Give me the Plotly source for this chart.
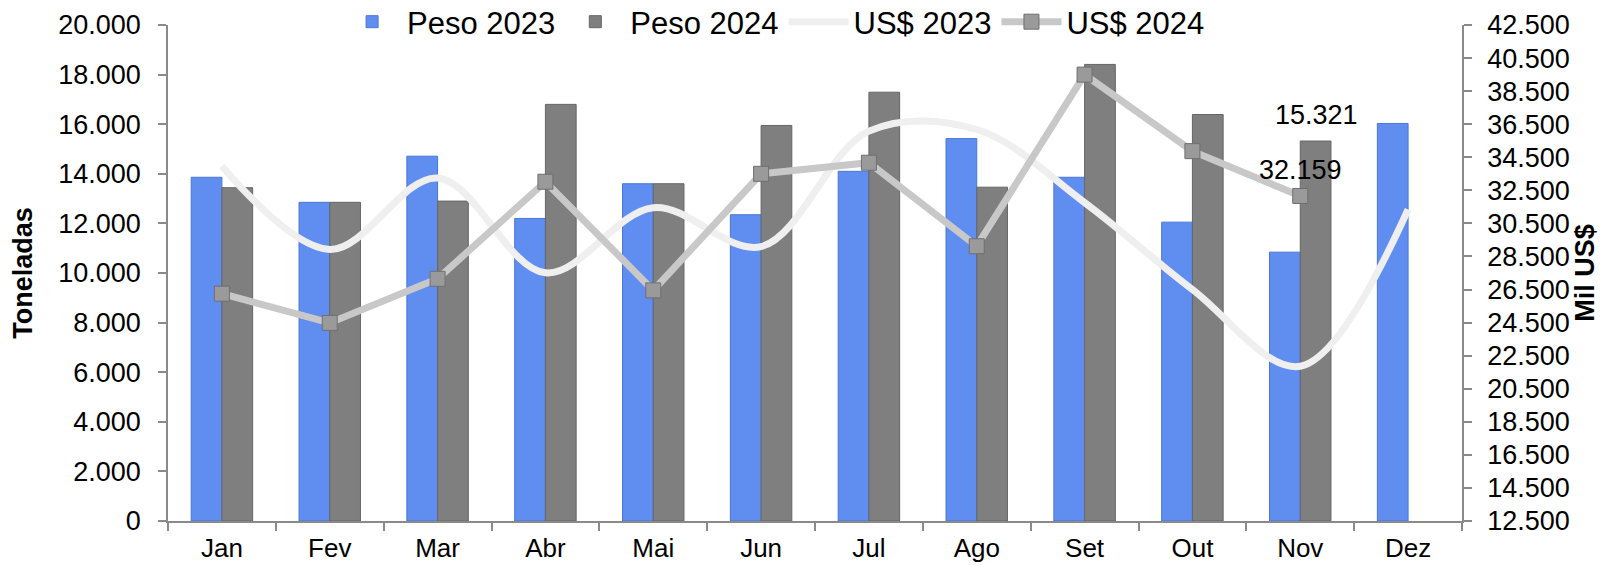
import plotly.graph_objects as go

months = ["Jan", "Fev", "Mar", "Abr", "Mai", "Jun", "Jul", "Ago", "Set", "Out", "Nov", "Dez"]
peso_2023 = [13860, 12850, 14710, 12200, 13600, 12350, 14100, 15420, 13860, 12050, 10840, 16030]
peso_2024 = [13440, 12850, 12900, 16800, 13600, 15950, 17290, 13460, 18410, 16390, 15321, None]
usd_2023 = [33960, 28920, 33250, 27510, 31450, 29100, 36080, 36180, 31760, 26500, 21860, 31340]
usd_2024 = [26250, 24480, 27150, 33020, 26450, 33500, 34170, 29120, 39500, 34870, 32159, None]

labeled_month = "Nov"


def fmt(v):
    return f"{v:,.0f}".replace(",", ".")


FONT = "Liberation Sans, Arial, sans-serif"
AXIS_COLOR = "#8a8a8a"

fig = go.Figure()

fig.add_trace(go.Bar(
    x=months, y=peso_2023, name="Peso 2023",
    marker=dict(color="#5f8ef0", line=dict(color="#4a76d6", width=1)),
))
fig.add_trace(go.Bar(
    x=months, y=peso_2024, name="Peso 2024",
    marker=dict(color="#7f7f7f", line=dict(color="#666666", width=1)),
))
fig.add_trace(go.Scatter(
    x=months, y=usd_2023, name="US$ 2023", yaxis="y2", mode="lines",
    line=dict(color="#efefef", width=7, shape="spline", smoothing=1.0),
))
usd24_text = [fmt(v) if (m == labeled_month and v is not None) else "" for m, v in zip(months, usd_2024)]
fig.add_trace(go.Scatter(
    x=months, y=usd_2024, name="US$ 2024", yaxis="y2", mode="lines+markers+text",
    line=dict(color="#c8c8c8", width=7),
    marker=dict(symbol="square", size=15, color="#9a9a9a", line=dict(color="#6f6f6f", width=1)),
    text=usd24_text, textposition="top center",
    textfont=dict(family=FONT, size=27, color="#000000"),
))

idx = months.index(labeled_month)
fig.add_annotation(
    x=months[idx], y=peso_2024[idx], xref="x", yref="y",
    text=fmt(peso_2024[idx]), showarrow=False,
    xshift=16, yshift=26,
    font=dict(family=FONT, size=27, color="#000000"),
)

fig.update_layout(
    width=1600, height=565,
    margin=dict(l=168, r=138, t=24.5, b=44.3, autoexpand=False),
    paper_bgcolor="white", plot_bgcolor="white",
    separators=",.",
    barmode="group", bargap=0.43, bargroupgap=0,
    font=dict(family=FONT, size=27, color="#000000"),
    showlegend=True,
    legend=dict(
        orientation="h", x=0.468, xanchor="center", y=1.006, yanchor="middle",
        font=dict(family=FONT, size=31, color="#000000"),
        bgcolor="rgba(0,0,0,0)", itemwidth=60, traceorder="normal",
    ),
    xaxis=dict(
        range=[-0.5, len(months) - 0.5],
        showline=True, linecolor=AXIS_COLOR, linewidth=1.5,
        ticks="outside", ticklen=8, tickcolor=AXIS_COLOR, tickwidth=1.5,
        tickson="boundaries", showgrid=False, automargin=False,
        tickfont=dict(family=FONT, size=26, color="#000000"),
        ticklabelstandoff=3,
    ),
    yaxis=dict(
        range=[0, 20000], dtick=2000, tick0=0, tickformat=",d",
        showline=True, linecolor=AXIS_COLOR, linewidth=1.5,
        ticks="outside", ticklen=8, tickcolor=AXIS_COLOR, tickwidth=1.5,
        showgrid=False, zeroline=False, automargin=False,
        tickfont=dict(family=FONT, size=27, color="#000000"),
        ticklabelstandoff=12,
        title=dict(text="<b>Toneladas</b>", font=dict(family=FONT, size=27), standoff=18),
    ),
    yaxis2=dict(
        overlaying="y", side="right",
        range=[12500, 42500], dtick=2000, tick0=12500, tickformat=",d",
        showline=True, linecolor=AXIS_COLOR, linewidth=1.5,
        ticks="outside", ticklen=8, tickcolor=AXIS_COLOR, tickwidth=1.5,
        showgrid=False, zeroline=False, automargin=False,
        tickfont=dict(family=FONT, size=27, color="#000000"),
        ticklabelstandoff=10,
        title=dict(text="<b>Mil US$</b>", font=dict(family=FONT, size=27), standoff=6),
    ),
)

fig.write_html("out.html")
